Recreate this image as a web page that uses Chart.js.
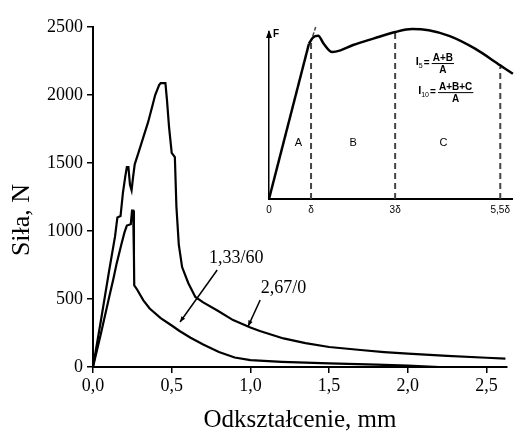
<!DOCTYPE html>
<html><head><meta charset="utf-8">
<script src="https://cdn.jsdelivr.net/npm/chart.js@4"></script>
<style>
html,body{margin:0;padding:0;background:#fff;}
#wrap{position:relative;width:515px;height:433px;overflow:hidden;}
#main{position:absolute;left:0;top:0;}
#inset{position:absolute;left:255px;top:12px;}
</style></head><body>
<div id="wrap"><canvas id="main" width="515" height="433"></canvas><canvas id="inset" width="260" height="212"></canvas></div>
<script>
// ---- main chart data ----
const xTicks = [0, 0.5, 1, 1.5, 2, 2.5];
const yTicks = [0, 500, 1000, 1500, 2000, 2500];
const xTitle = 'Odkształcenie, mm';
const yTitle = 'Siła, N';

// curve "2,67/0"
const curve1X = [0, 0.05, 0.10, 0.14, 0.155, 0.175, 0.19, 0.205, 0.215, 0.225, 0.235, 0.245, 0.255, 0.265, 0.29, 0.32, 0.35, 0.375, 0.395, 0.42, 0.43, 0.46, 0.47, 0.483, 0.50, 0.52, 0.53, 0.545, 0.566, 0.605, 0.65, 0.70, 0.79, 0.89, 1.0, 1.06, 1.21, 1.35, 1.5, 1.7, 1.85, 2.0, 2.25, 2.5, 2.62];
const curve1Y = [0, 340, 690, 960, 1100, 1110, 1280, 1400, 1470, 1470, 1340, 1300, 1400, 1490, 1580, 1690, 1800, 1910, 2000, 2073, 2088, 2088, 1963, 1765, 1574, 1544, 1176, 900, 735, 618, 515, 475, 415, 345, 290, 265, 210, 175, 147, 125, 110, 98, 82, 68, 62];
// curve "1,33/60"
const curve2X = [0, 0.05, 0.10, 0.13, 0.15, 0.18, 0.20, 0.215, 0.24, 0.248, 0.255, 0.26, 0.262, 0.28, 0.32, 0.36, 0.43, 0.50, 0.55, 0.62, 0.70, 0.80, 0.90, 1.0, 1.2, 1.5, 1.8, 2.0, 2.2];
const curve2Y = [0, 245, 500, 650, 760, 900, 990, 1040, 1050, 1150, 1150, 820, 600, 570, 490, 430, 360, 305, 265, 215, 165, 110, 70, 50, 38, 27, 17, 10, 0];

// annotations (data coordinates)
const annLabels = ['1,33/60', '2,67/0'];
const annTextX = [0.91, 1.21];
const annTextY = [801, 581];
const annFromX = [0.789, 1.062];
const annFromY = [713, 493];
const annToX = [0.553, 0.986];
const annToY = [331, 301];

// ---- inset data ----
const insetLinX = [0, 0.95];
const insetLinF = [0, 0.93];
const insetX = [0.95, 1.05, 1.17, 1.3, 1.5, 1.7, 2.0, 2.5, 3.0, 3.4, 3.8, 4.3, 4.9, 5.5, 5.8];
const insetF = [0.93, 0.968, 0.978, 0.93, 0.88, 0.89, 0.922, 0.962, 1.0, 1.018, 1.01, 0.975, 0.9, 0.8, 0.75];
const insetTickValues = [0, 1, 3, 5.5];
const insetTickLabels = ['0', 'δ', '3δ', '5,5δ'];
const insetDashX = [1, 3, 5.5];
const insetDashTop = [0.95, 1.0, 0.79];
const tangentX = [1.04, 1.11];
const tangentY = [0.975, 1.03];
const insetLetters = ['A', 'B', 'C'];
const insetLetterX = [0.7, 2.0, 4.15];
const insetLetterY = 0.335;
const formulaSub = ['5', '10'];
const formulaNum = ['A+B', 'A+B+C'];
const formulaDen = ['A', 'A'];
const formulaX = [3.75, 3.9];
const formulaY = [0.814, 0.64];

const serif = '"Liberation Serif","Times New Roman",serif';
const sans = '"Liberation Sans",Arial,sans-serif';

const pts = (xs, ys) => xs.map((x, i) => ({x, y: ys[i]}));

const annPlugin = {
  id: 'ann',
  afterDraw(chart) {
    const {ctx, scales: {x, y}} = chart;
    ctx.save();
    ctx.fillStyle = '#000';
    ctx.strokeStyle = '#000';
    ctx.font = '18px ' + serif;
    ctx.textAlign = 'center';
    ctx.textBaseline = 'middle';
    for (let i = 0; i < annLabels.length; i++) {
      ctx.fillText(annLabels[i], x.getPixelForValue(annTextX[i]), y.getPixelForValue(annTextY[i]));
      const x1 = x.getPixelForValue(annFromX[i]), y1 = y.getPixelForValue(annFromY[i]);
      const x2 = x.getPixelForValue(annToX[i]), y2 = y.getPixelForValue(annToY[i]);
      ctx.lineWidth = 1.5;
      ctx.beginPath(); ctx.moveTo(x1, y1); ctx.lineTo(x2, y2); ctx.stroke();
      const a = Math.atan2(y2 - y1, x2 - x1), L = 6, w = 0.4;
      ctx.beginPath();
      ctx.moveTo(x2, y2);
      ctx.lineTo(x2 - L * Math.cos(a - w), y2 - L * Math.sin(a - w));
      ctx.lineTo(x2 - L * Math.cos(a + w), y2 - L * Math.sin(a + w));
      ctx.closePath(); ctx.fill();
    }
    // y axis title
    ctx.font = '26px ' + serif;
    ctx.translate(22, 220);
    ctx.rotate(-Math.PI / 2);
    ctx.fillText(yTitle, 0, 0);
    ctx.restore();
  }
};

new Chart(document.getElementById('main'), {
  type: 'line',
  data: {datasets: [
    {label: '2,67/0', data: pts(curve1X, curve1Y), borderColor: '#000', borderWidth: 2.2, pointRadius: 0, tension: 0, fill: false},
    {label: '1,33/60', data: pts(curve2X, curve2Y), borderColor: '#000', borderWidth: 2.2, pointRadius: 0, tension: 0, fill: false}
  ]},
  options: {
    responsive: false, animation: false, devicePixelRatio: 1,
    layout: {padding: {left: 0, top: 27, right: 8, bottom: 0}},
    plugins: {legend: {display: false}, tooltip: {enabled: false}},
    scales: {
      x: {
        type: 'linear', min: 0, max: 2.63,
        afterBuildTicks: s => { s.ticks = xTicks.map(v => ({value: v})); },
        afterFit: s => { s.height = 66; },
        grid: {display: true, drawOnChartArea: false, drawTicks: true, tickLength: 6, color: '#000', lineWidth: 1.5},
        border: {display: true, color: '#000', width: 2},
        ticks: {color: '#000', font: {family: serif, size: 18}, padding: 2, maxRotation: 0, autoSkip: false,
          callback: v => v.toFixed(1).replace('.', ',')},
        title: {display: true, text: xTitle, color: '#000', font: {family: serif, size: 25, lineHeight: 1}, padding: 0}
      },
      y: {
        type: 'linear', min: 0, max: 2500,
        afterBuildTicks: s => { s.ticks = yTicks.map(v => ({value: v})); },
        afterFit: s => { s.width = 93; },
        grid: {display: true, drawOnChartArea: false, drawTicks: true, tickLength: 6, color: '#000', lineWidth: 1.5},
        border: {display: true, color: '#000', width: 2},
        ticks: {color: '#000', font: {family: serif, size: 18}, padding: 4, callback: v => String(v)}
      }
    }
  },
  plugins: [annPlugin]
});

// ---- inset ----
const insetPlugin = {
  id: 'insetText',
  afterDraw(chart) {
    const {ctx, scales: {x, y}} = chart;
    ctx.save();
    ctx.fillStyle = '#000'; ctx.strokeStyle = '#000';
    // arrow on F axis
    const ax = x.getPixelForValue(0), ay = y.getPixelForValue(1.0);
    ctx.beginPath(); ctx.moveTo(ax, ay - 2); ctx.lineTo(ax - 3, ay + 6); ctx.lineTo(ax + 3, ay + 6); ctx.closePath(); ctx.fill();
    ctx.font = 'bold 10px ' + sans;
    ctx.textAlign = 'left'; ctx.textBaseline = 'middle';
    ctx.fillText('F', ax + 4, ay + 2);
    // letters
    ctx.font = '11px ' + sans;
    ctx.textAlign = 'center';
    for (let i = 0; i < insetLetters.length; i++) {
      ctx.fillText(insetLetters[i], x.getPixelForValue(insetLetterX[i]), y.getPixelForValue(insetLetterY));
    }
    // formulas
    for (let i = 0; i < formulaNum.length; i++) {
      const px = x.getPixelForValue(formulaX[i]), py = y.getPixelForValue(formulaY[i]);
      ctx.font = 'bold 10px ' + sans;
      ctx.textAlign = 'center'; ctx.textBaseline = 'middle';
      ctx.fillText('=', px, py);
      ctx.font = '7px ' + sans;
      ctx.textAlign = 'right'; ctx.textBaseline = 'middle';
      const subW = ctx.measureText(formulaSub[i]).width;
      ctx.fillText(formulaSub[i], px - 4, py + 3);
      ctx.font = 'bold 11px ' + sans;
      ctx.fillText('I', px - 4 - subW, py - 1);
      ctx.font = 'bold 10px ' + sans;
      const w = Math.max(ctx.measureText(formulaNum[i]).width, ctx.measureText(formulaDen[i]).width) + 2;
      const bx = px + 5, cx = bx + w / 2;
      ctx.lineWidth = 1;
      ctx.beginPath(); ctx.moveTo(bx, py + 0.5); ctx.lineTo(bx + w, py + 0.5); ctx.stroke();
      ctx.textAlign = 'center';
      ctx.textBaseline = 'bottom';
      ctx.fillText(formulaNum[i], cx, py);
      ctx.textBaseline = 'top';
      ctx.fillText(formulaDen[i], cx, py + 2);
    }
    ctx.restore();
  }
};

const insetSets = [
  {data: pts(insetLinX, insetLinF), borderColor: '#000', borderWidth: 2.5, pointRadius: 0, tension: 0, fill: false, clip: false},
  {data: pts(insetX, insetF), borderColor: '#000', borderWidth: 2.5, pointRadius: 0, cubicInterpolationMode: 'monotone', fill: false, clip: false}
];
for (let i = 0; i < insetDashX.length; i++) {
  insetSets.push({data: [{x: insetDashX[i], y: 0}, {x: insetDashX[i], y: insetDashTop[i]}], borderColor: '#444', borderWidth: 2, borderDash: [6, 4], pointRadius: 0, fill: false, clip: false});
}
insetSets.push({data: pts(tangentX, tangentY), borderColor: '#444', borderWidth: 1.5, borderDash: [4, 2], pointRadius: 0, fill: false, clip: false});

new Chart(document.getElementById('inset'), {
  type: 'line',
  data: {datasets: insetSets},
  options: {
    responsive: false, animation: false, devicePixelRatio: 1,
    layout: {padding: {left: 0, top: 20, right: 0, bottom: 0}},
    plugins: {legend: {display: false}, tooltip: {enabled: false}},
    scales: {
      x: {
        type: 'linear', min: 0, max: 5.8,
        afterBuildTicks: s => { s.ticks = insetTickValues.map(v => ({value: v})); },
        afterFit: s => { s.height = 25; },
        grid: {display: true, drawOnChartArea: false, drawTicks: false},
        border: {display: true, color: '#000', width: 2},
        ticks: {color: '#000', font: {family: sans, size: 10}, padding: 5, maxRotation: 0, autoSkip: false,
          callback: (v) => insetTickLabels[insetTickValues.indexOf(v)] ?? ''}
      },
      y: {
        type: 'linear', min: 0, max: 1,
        afterFit: s => { s.width = 14; },
        grid: {display: false, drawOnChartArea: false, drawTicks: false},
        border: {display: true, color: '#000', width: 1.5},
        ticks: {display: false}
      }
    }
  },
  plugins: [insetPlugin]
});
</script>
</body></html>
